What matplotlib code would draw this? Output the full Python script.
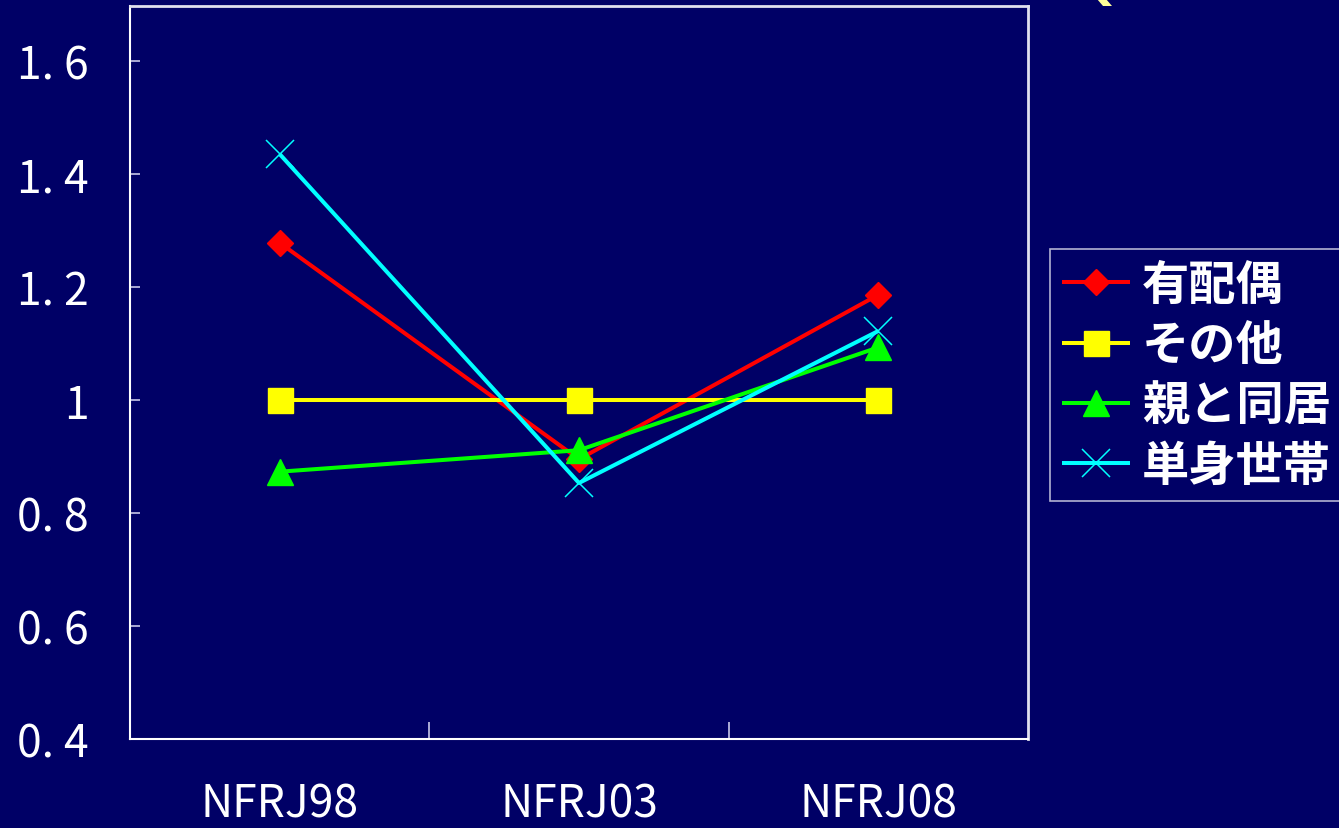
import matplotlib
matplotlib.use("Agg")
import matplotlib.pyplot as plt
from matplotlib.patches import Polygon

BG = "#000066"
EDGE = "#e0e0ee"
plt.rcParams["font.family"] = ["Noto Sans CJK JP", "DejaVu Sans"]

surveys = ["NFRJ98", "NFRJ03", "NFRJ08"]
yticks = [0.4, 0.6, 0.8, 1.0, 1.2, 1.4, 1.6]
ytick_labels = ["0. 4", "0. 6", "0. 8", "1", "1. 2", "1. 4", "1. 6"]

married = [1.278, 0.895, 1.186]
other = [1.0, 1.0, 1.0]
with_parents = [0.873, 0.911, 1.093]
single = [1.435, 0.853, 1.122]

series = [
    ("有配偶", married, "#ff0000", "D", 13.7),
    ("その他", other, "#ffff00", "s", 18),
    ("親と同居", with_parents, "#00ff00", "^", 19),
    ("単身世帯", single, "#00ffff", "x", 19.5),
]

fig = plt.figure(figsize=(13.39, 8.29), dpi=100, facecolor=BG)
ax = fig.add_axes([130 / 1339, 1 - 740 / 829, 898 / 1339, 733 / 829])
ax.set_facecolor(BG)

x = range(len(surveys))
for name, vals, col, mk, ms in series:
    if mk == "x":
        ax.plot(x, vals, color=col, lw=2.9, marker=mk, ms=ms, mew=1.1,
                label=name, solid_capstyle="butt")
    else:
        ax.plot(x, vals, color=col, lw=2.9, marker=mk, ms=ms, mec=col,
                label=name, solid_capstyle="butt")

ax.set_xlim(-0.5, 2.5)
ax.set_ylim(0.4, 1.697)
ax.set_xticks(list(x))
ax.set_xticklabels(surveys)
ax.set_xticks([0.5, 1.5], minor=True)
ax.set_yticks(yticks)
ax.set_yticklabels(ytick_labels)

ax.tick_params(axis="x", which="major", length=0, pad=30, labelsize=32, labelcolor="white")
ax.tick_params(axis="x", which="minor", direction="in", length=12, width=1.2, color="#c8c8e8")
ax.tick_params(axis="y", direction="in", length=7, width=1.2, color="#c8c8e8",
               pad=30, labelsize=32, labelcolor="white")
for lab in ax.get_yticklabels():
    lab.set_ha("right")

for side in ["left", "bottom"]:
    ax.spines[side].set_color("white")
    ax.spines[side].set_linewidth(1.5)
for side in ["top", "right"]:
    ax.spines[side].set_color(EDGE)
    ax.spines[side].set_linewidth(2)

leg = ax.legend(loc="upper left", bbox_to_anchor=(1050 / 1339, 1 - 250 / 829),
                bbox_transform=fig.transFigure, borderaxespad=0, frameon=True,
                fancybox=False, facecolor=BG, edgecolor=EDGE,
                handlelength=1.45, handletextpad=0.25, labelspacing=0.26,
                borderpad=0.25, prop={"family": ["Noto Sans CJK JP"], "size": 34, "weight": "bold"})
leg.get_frame().set_linewidth(1.2)
for t in leg.get_texts():
    t.set_color("white")

# small yellow corner shape clipped at the top edge
fig.patches.append(Polygon([(1097 / 1339, 1.0), (1106 / 1339, 1.0), (1112 / 1339, 1 - 7 / 829),
                            (1103 / 1339, 1 - 7 / 829)], closed=True, transform=fig.transFigure,
                           facecolor="#ffff99", edgecolor="none"))

fig.savefig("out.png", dpi=100, facecolor=BG)
